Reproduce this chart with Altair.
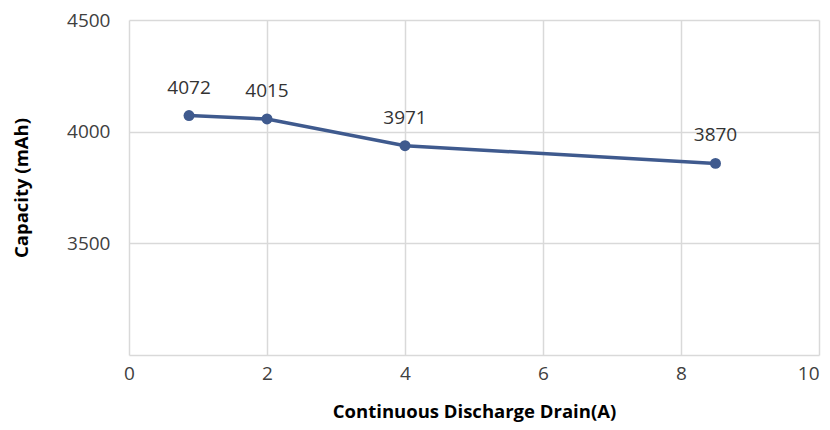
import altair as alt
import pandas as pd

drain = [0.87, 2, 4, 8.5]
capacity = [4072, 4057, 3937, 3858]
labels = ["4072", "4015", "3971", "3870"]

x_ticks = [0, 2, 4, 6, 8, 10]
y_ticks = [3000, 3500, 4000, 4500]

df = pd.DataFrame({"drain": drain, "capacity": capacity, "label": labels})

FONT = "Open Sans"
COLOR = "#3F5A8E"

x_enc = alt.X(
    "drain:Q",
    scale=alt.Scale(domain=[0, 10], nice=False, zero=False),
    axis=alt.Axis(
        values=x_ticks,
        format="d",
        title="Continuous Discharge Drain(A)",
        grid=True,
        gridColor="#d9d9d9",
        gridWidth=1.5,
        domain=False,
        ticks=False,
        labelFont=FONT,
        labelFontSize=19,
        labelColor="#404040",
        labelPadding=9,
        labelFlush=False,
        labelAlign={"condition": {"test": "datum.value == 10", "value": "right"}, "value": "center"},
        titleFont=FONT,
        titleFontSize=18.5,
        titleFontWeight="bold",
        titleColor="#000000",
        titleY=56,
        titleBaseline="middle",
    ),
)
y_enc = alt.Y(
    "capacity:Q",
    scale=alt.Scale(domain=[3000, 4500], nice=False, zero=False),
    axis=alt.Axis(
        values=y_ticks,
        format="d",
        labelExpr="datum.value == 3000 ? '' : datum.label",
        title="Capacity (mAh)",
        grid=True,
        gridColor="#d9d9d9",
        gridWidth=1.5,
        domain=False,
        ticks=False,
        labelFont=FONT,
        labelFontSize=19,
        labelColor="#404040",
        labelPadding=19,
        titleFont=FONT,
        titleFontSize=18.5,
        titleFontWeight="bold",
        titleColor="#000000",
        titleX=-108,
        titleY=167.5,
        titleAngle=270,
        titleAlign="center",
        titleBaseline="middle",
    ),
)

base = alt.Chart(df).encode(x=x_enc, y=y_enc)

line = base.mark_line(color=COLOR, strokeWidth=3.5)
pts = base.mark_point(filled=True, color=COLOR, size=120, opacity=1)
txt = base.mark_text(dy=-28, fontSize=19, font=FONT, color="#333333").encode(text="label:N")

chart = (
    (line + pts + txt)
    .properties(
        width=690,
        height=335,
        autosize=alt.AutoSizeParams(type="none"),
        padding={"left": 121, "top": 12, "right": 3, "bottom": 67},
        background="white",
    )
    .configure_view(stroke=None)
)

chart.save("out.html", embed_options={"renderer": "svg", "actions": False})
